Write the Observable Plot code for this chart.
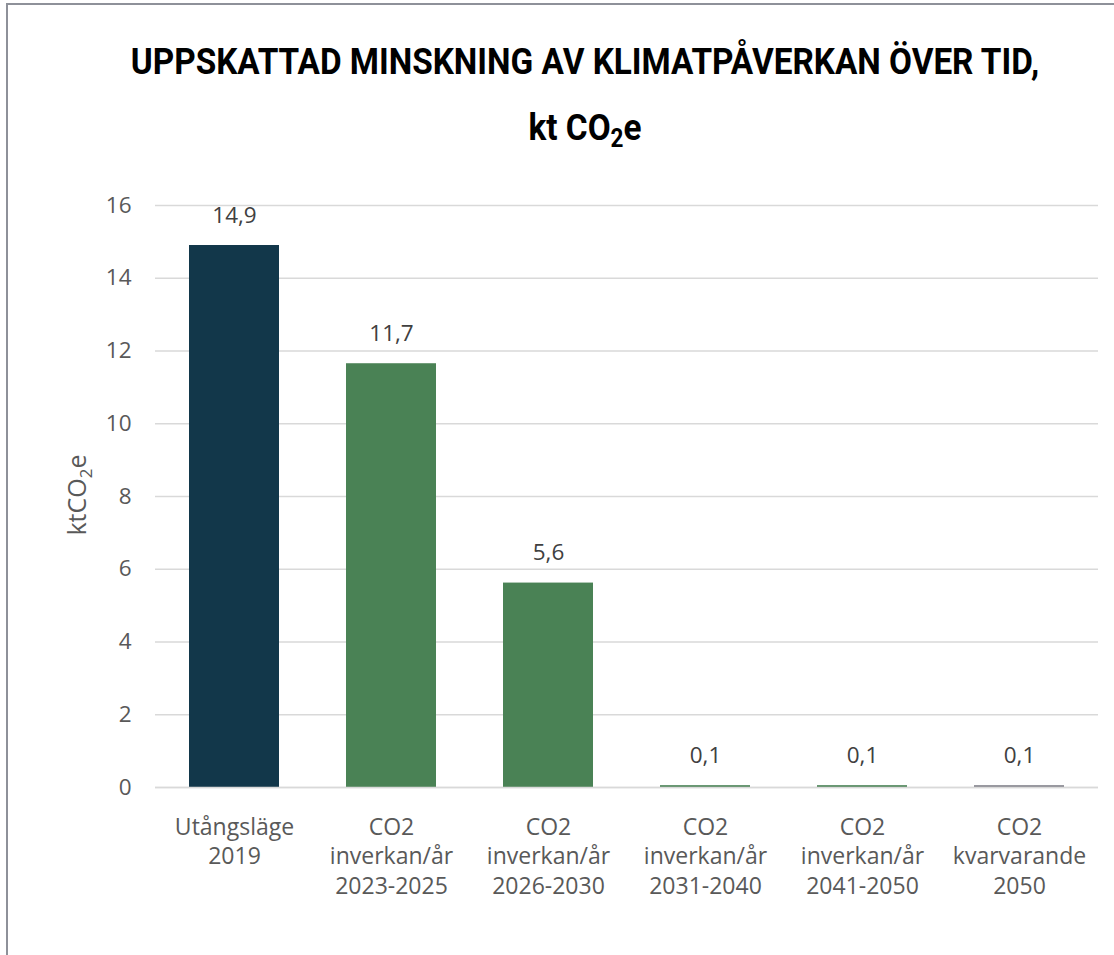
<!DOCTYPE html>
<html><head><meta charset="utf-8">
<script src="https://cdn.jsdelivr.net/npm/d3@7"></script>
<script src="https://cdn.jsdelivr.net/npm/@observablehq/plot@0.6"></script>
<style>
html,body{margin:0;padding:0;background:#fff;width:1114px;height:955px;overflow:hidden;}
#frame{position:absolute;left:6px;top:3px;width:1200px;height:1000px;border-top:2px solid #8e9199;border-left:2px solid #8e9199;}
#title{position:absolute;left:0;top:0;width:1170px;text-align:center;font-family:"Roboto",sans-serif;font-weight:bold;font-size:37px;color:#000;line-height:66px;padding-top:29px;}
#title .l{display:block;transform:scaleX(0.9);transform-origin:585px 50%;}
#title sub{font-size:25px;vertical-align:-7px;line-height:0;}
#chart{position:absolute;left:0;top:170px;}
</style></head>
<body>
<div id="frame"></div>
<div id="title"><span class="l">UPPSKATTAD MINSKNING AV KLIMATPÅVERKAN ÖVER TID,</span><span class="l">kt CO<sub>2</sub>e</span></div>
<div id="chart"></div>
<script>
const categories = ["Utångsläge\n2019","CO2\ninverkan/år\n2023-2025","CO2\ninverkan/år\n2026-2030","CO2\ninverkan/år\n2031-2040","CO2\ninverkan/år\n2041-2050","CO2\nkvarvarande\n2050"];
const values = [14.9, 11.65, 5.62, 0.05, 0.05, 0.05];
const valueLabels = ["14,9","11,7","5,6","0,1","0,1","0,1"];
const colors = ["#12374a","#4a8255","#4a8255","#4a8255","#4a8255","#84848c"];
const yTicks = [0,2,4,6,8,10,12,14,16];

const data = categories.map((c,i)=>({cat:c, v:values[i], label:valueLabels[i], color:colors[i]}));

const plot = Plot.plot({
  width: 1114, height: 785,
  marginLeft: 155, marginRight: 16, marginTop: 35, marginBottom: 168,
  style: {fontFamily: "'Open Sans', sans-serif", fontSize: "22px", color: "#595959", background: "transparent"},
  x: {domain: categories, paddingInner: 0.427, paddingOuter: 0.2135, label: null},
  y: {domain: [0,16], label: null},
  marks: [
    Plot.gridY(yTicks, {stroke: "#d9d9d9", strokeOpacity: 1, strokeWidth: 1.3}),
    Plot.barY(data, {x: "cat", y: "v", fill: "color"}),
    Plot.ruleY([0], {stroke: "#d9d9d9", strokeWidth: 1.5}),
    Plot.axisY(yTicks, {tickSize: 0, tickPadding: 24, fontSize: 22.5, fill: "#595959", label: null}),
    Plot.axisX({tickSize: 0, tickPadding: 27, fontSize: 23, lineHeight: 1.27, fill: "#595959", label: null}),
    Plot.text(data, {x: "cat", y: "v", text: "label", dy: -30, fontSize: 22.5, fill: "#404040"})
  ]
});
document.getElementById("chart").appendChild(plot);

// y-axis label with subscript
const svg = d3.select(plot);
const t = svg.append("text")
  .attr("transform", "translate(86,325) rotate(-90)")
  .attr("text-anchor", "middle")
  .attr("font-family", "'Open Sans', sans-serif")
  .attr("font-size", 25)
  .attr("fill", "#595959");
t.append("tspan").text("ktCO");
t.append("tspan").attr("font-size", 17).attr("dy", 6).text("2");
t.append("tspan").attr("dy", -6).text("e");
</script>
</body></html>
